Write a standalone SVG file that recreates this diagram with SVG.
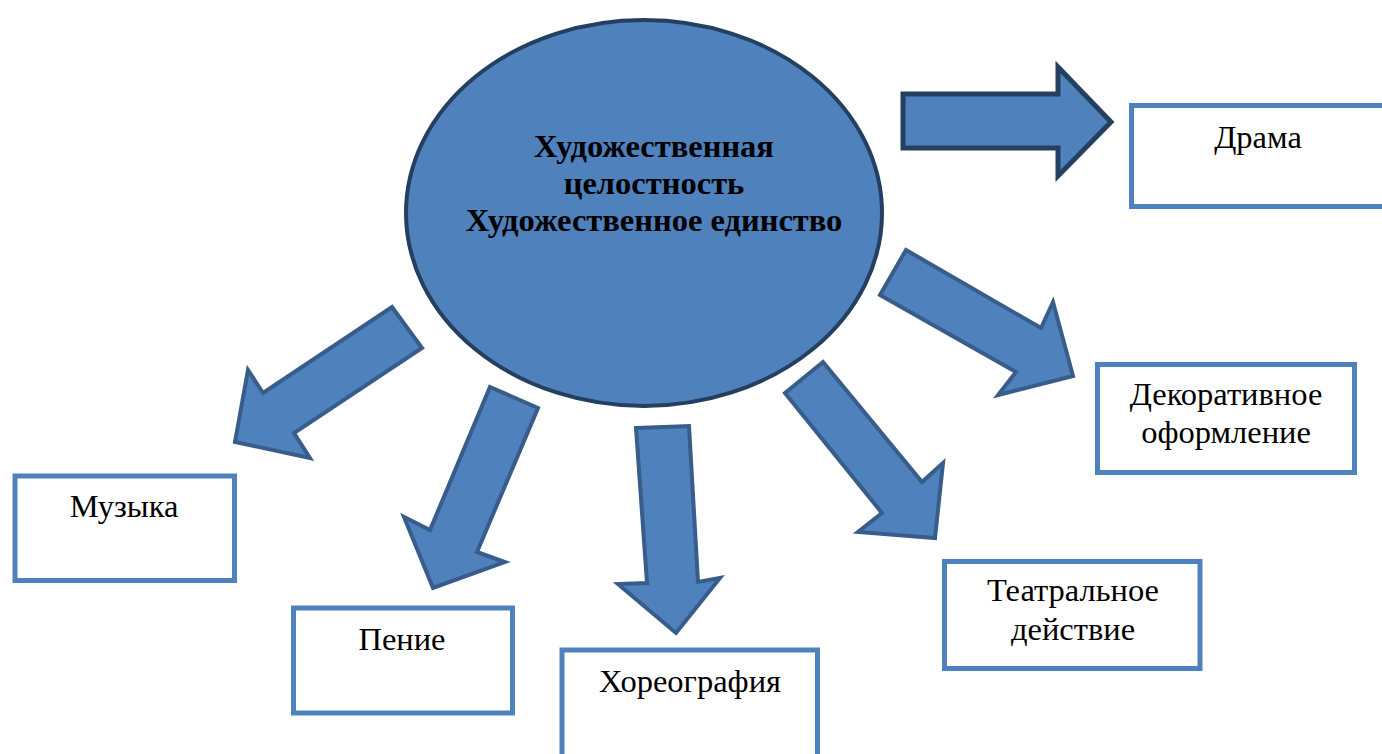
<svg xmlns="http://www.w3.org/2000/svg" width="1382" height="754" viewBox="0 0 1382 754">
<style>
.box{fill:#ffffff;stroke:#4f81bd;stroke-width:5}
.arr{fill:#4f81bd;stroke:#385d8a;stroke-width:4;stroke-linejoin:miter}
.arrd{fill:#4f81bd;stroke:#243f60;stroke-width:5;stroke-linejoin:miter}
.lbl{font-family:"Liberation Serif","Times New Roman",serif;font-size:32.5px;fill:#000;text-anchor:middle}
.ttl{font-family:"Liberation Serif","Times New Roman",serif;font-size:32.5px;font-weight:bold;fill:#000;text-anchor:middle}
</style>
<rect width="1382" height="754" fill="#ffffff"/>
<g id="connectors">
<polygon class="arrd" points="903,94 1058,94 1058,67 1111,122 1058,176 1058,148 903,148"/>
<polygon class="arr" points="906,250 1041,328 1053,302 1073,376 998,395 1016,372 880,295"/>
<polygon class="arr" points="392,307 422,348 294,433 310,458 235,442 248,370 263,393"/>
<polygon class="arr" points="490,387 538,408 477,552 505,562 433,588 404,517 430,530"/>
<polygon class="arr" points="636,428 689,426 698,582 720,578 676,633 618,584 647,583"/>
<polygon class="arr" points="823,362 922,482 943,463 935,538 858,532 882,513 785,393"/>
</g>
<g id="center">
<ellipse cx="644" cy="213" rx="238" ry="193" fill="#4f81bd" stroke="#243f60" stroke-width="4"/>
<text class="ttl" x="654" y="157">Художественная</text>
<text class="ttl" x="654" y="194">целостность</text>
<text class="ttl" x="654" y="231">Художественное единство</text>
</g>
<g id="drama">
<rect class="box" x="1131.5" y="105.5" width="260" height="101"/>
<text class="lbl" x="1258" y="148">Драма</text>
</g>
<g id="decor">
<rect class="box" x="1097.5" y="364.5" width="257" height="108"/>
<text class="lbl" x="1226" y="405">Декоративное</text>
<text class="lbl" x="1226" y="443">оформление</text>
</g>
<g id="music">
<rect class="box" x="15" y="476" width="219.5" height="104.5"/>
<text class="lbl" x="124" y="517">Музыка</text>
</g>
<g id="singing">
<rect class="box" x="293.5" y="608" width="219" height="105"/>
<text class="lbl" x="402" y="650">Пение</text>
</g>
<g id="choreo">
<rect class="box" x="562" y="650" width="255.5" height="120"/>
<text class="lbl" x="690" y="692">Хореография</text>
</g>
<g id="theatre">
<rect class="box" x="944.5" y="561.5" width="255.5" height="107"/>
<text class="lbl" x="1073" y="601">Театральное</text>
<text class="lbl" x="1073" y="640">действие</text>
</g>
</svg>
